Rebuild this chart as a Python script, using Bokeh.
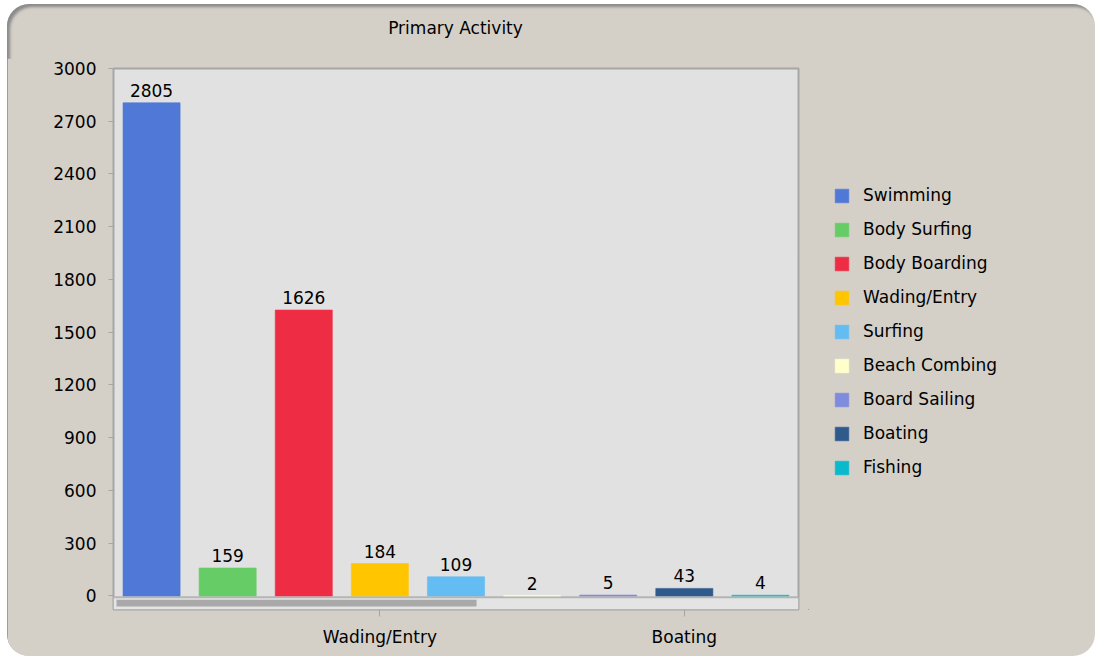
from bokeh.plotting import figure
from bokeh.layouts import row, column
from bokeh.models import (ColumnDataSource, Legend, LegendItem, FixedTicker, BoxAnnotation,
                          Span, Range1d, Label)
from bokeh.embed import file_html
from bokeh.resources import INLINE
from bokeh.core.properties import value

# ---- data ----
activities = ["Swimming", "Body Surfing", "Body Boarding", "Wading/Entry", "Surfing",
              "Beach Combing", "Board Sailing", "Boating", "Fishing"]
counts = [2805, 159, 1626, 184, 109, 2, 5, 43, 4]
colors = ["#5079d7", "#66cc66", "#ee2d45", "#ffc600", "#63bdf2",
          "#ffffcc", "#7f8bdc", "#2f5b8c", "#0abacc"]
y_ticks = [0, 300, 600, 900, 1200, 1500, 1800, 2100, 2400, 2700, 3000]
x_tick_labels = {4: "Wading/Entry", 8: "Boating"}
title_text = "Primary Activity"

FONT = "DejaVu Sans"
BG = "#d4d0c8"
xs = list(range(1, len(activities) + 1))
src = ColumnDataSource(dict(x=xs, y=counts, name=activities, color=colors,
                            label=[str(c) for c in counts]))


def blank(fig):
    fig.background_fill_color = BG
    fig.background_fill_alpha = 0
    fig.border_fill_color = BG
    fig.border_fill_alpha = 0
    fig.outline_line_color = None
    fig.xgrid.visible = False
    fig.ygrid.visible = False


# ---- title strip ----
t = figure(width=1088, height=54, output_backend="svg", toolbar_location=None,
           x_range=Range1d(0, 1088), y_range=Range1d(0, 54),
           x_axis_location=None, y_axis_location=None,
           min_border_left=0, min_border_right=0, min_border_top=0, min_border_bottom=0)
blank(t)
t.add_layout(Label(x=448, y=31, text=title_text, text_align="center",
                   text_baseline="middle", text_font=FONT, text_font_size="17px",
                   text_color="#000000"))

# ---- main chart ----
p = figure(width=801, height=598, output_backend="svg", toolbar_location=None,
           x_range=Range1d(0.5, len(activities) + 0.5), y_range=Range1d(-77, 3000),
           min_border_left=106, min_border_right=10, min_border_top=10, min_border_bottom=47)

p.background_fill_color = "#e1e1e1"
p.border_fill_color = BG
p.outline_line_color = "#a6a6a6"
p.outline_line_width = 2
p.xgrid.visible = False
p.ygrid.visible = False

# scrollbar decoration under the zero line
p.add_layout(BoxAnnotation(bottom=-77, top=-8, fill_color="#e4e4e4", fill_alpha=1,
                           line_color=None, level="underlay"))
p.add_layout(Span(location=-8, dimension="width", line_color="#b4b4b4", line_width=2,
                  level="underlay"))
p.add_layout(BoxAnnotation(left=0.54, right=5.27, bottom=-60, top=-22,
                           fill_color="#a9a9a9", fill_alpha=1, line_color=None,
                           level="underlay"))

bars = p.vbar(x="x", top="y", bottom=0, width=0.75, source=src,
              fill_color="color", line_color="color", line_alpha=0.6)

p.text(x="x", y="y", text="label", source=src, text_align="center",
       text_baseline="bottom", y_offset=-6, text_font=value(FONT),
       text_font_size="17px", text_color="#000000")

# axes
p.yaxis.ticker = FixedTicker(ticks=y_ticks)
p.yaxis.axis_line_color = None
p.yaxis.major_tick_out = 5
p.yaxis.major_tick_in = 0
p.yaxis.minor_tick_out = 0
p.yaxis.minor_tick_in = 0
p.yaxis.major_tick_line_color = "#a6a6a6"
p.yaxis.major_label_standoff = 12
p.yaxis.major_label_text_font = FONT
p.yaxis.major_label_text_font_size = "17px"
p.yaxis.major_label_text_color = "#000000"

p.xaxis.ticker = FixedTicker(ticks=list(x_tick_labels.keys()))
p.xaxis.major_label_overrides = x_tick_labels
p.xaxis.axis_line_color = None
p.xaxis.major_tick_out = 7
p.xaxis.major_tick_in = 0
p.xaxis.minor_tick_out = 0
p.xaxis.minor_tick_in = 0
p.xaxis.major_tick_line_color = "#a6a6a6"
p.xaxis.major_label_standoff = 10
p.xaxis.major_label_text_font = FONT
p.xaxis.major_label_text_font_size = "17px"
p.xaxis.major_label_text_color = "#000000"

# ---- legend panel ----
q = figure(width=287, height=598, output_backend="svg", toolbar_location=None,
           x_range=Range1d(100, 101), y_range=Range1d(0, 1),
           x_axis_location=None, y_axis_location=None,
           min_border_left=0, min_border_right=0, min_border_top=10, min_border_bottom=47)
blank(q)
legend_src = ColumnDataSource(dict(x=xs, color=colors))
legend_bars = q.vbar(x="x", top=0, bottom=0, width=0.0, source=legend_src,
                     fill_color="color", line_color="color", line_alpha=0.6)

items = [LegendItem(label=name, renderers=[legend_bars], index=i)
         for i, name in enumerate(activities)]
leg = Legend(items=items, location=(25, 132))
leg.glyph_width = 17
leg.glyph_height = 17
leg.label_height = 17
leg.spacing = 14
leg.label_standoff = 13
leg.padding = 0
leg.margin = 0
leg.border_line_color = None
leg.background_fill_alpha = 0
leg.label_text_font = FONT
leg.label_text_font_size = "17px"
leg.label_text_color = "#000000"
leg.label_text_baseline = "middle"
q.add_layout(leg)

layout = column(t, row(p, q, spacing=0), spacing=0, margin=(4, 5, 4, 7))
layout.styles = {"border-radius": "22px", "overflow": "hidden", "background-color": BG,
                 "box-shadow": "inset 3px 3px 3px #8a8a8a"}

open("out.html", "w").write(file_html(layout, INLINE))
